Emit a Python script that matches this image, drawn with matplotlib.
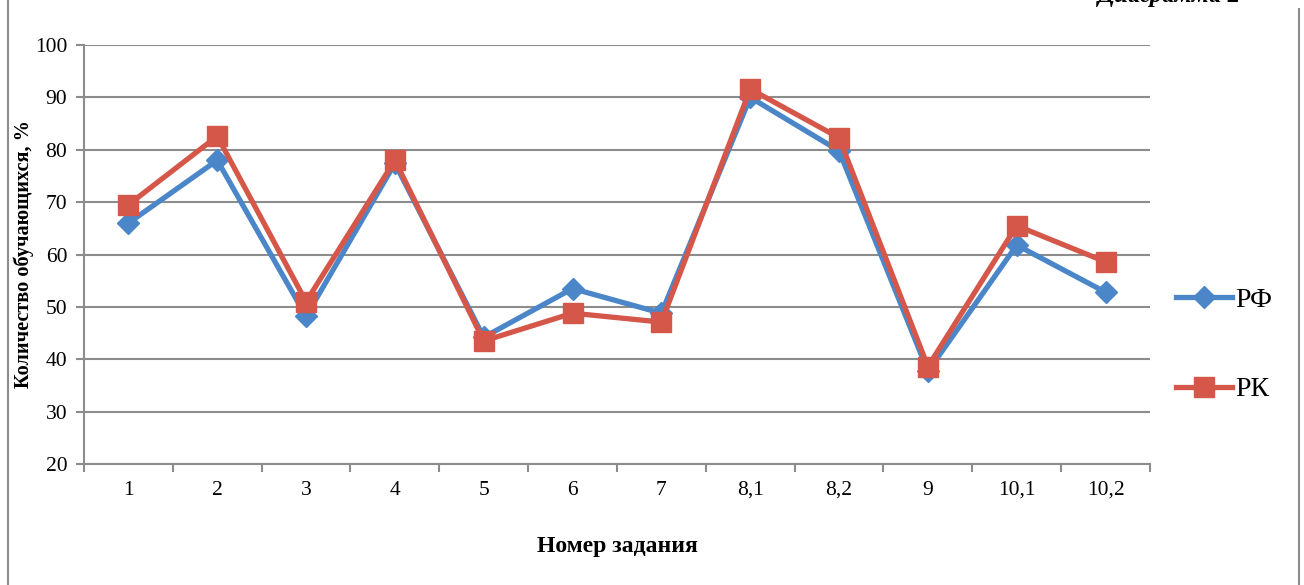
import matplotlib.pyplot as plt
from matplotlib.lines import Line2D

plt.rcParams['font.family'] = ['Liberation Serif', 'DejaVu Serif']

categories = ['1', '2', '3', '4', '5', '6', '7', '8,1', '8,2', '9', '10,1', '10,2']
rf_values = [66, 78, 48.2, 77.4, 44.2, 53.5, 48.8, 90, 79.8, 37.7, 61.8, 52.8]
rk_values = [69.5, 82.6, 51, 78, 43.5, 48.8, 47.1, 91.6, 82.3, 38.6, 65.5, 58.6]
series_names = ['РФ', 'РК']

blue = '#4A86C8'
red = '#D5574A'
grid_col = '#8c8c8c'

fig = plt.figure(figsize=(13.04, 5.85), dpi=100)
ax = fig.add_axes([0.0644, 0.2068, 0.8175, 0.7162])

x = list(range(len(categories)))
ax.plot(x, rf_values, color=blue, lw=3.8, marker='D', ms=11, label=series_names[0], zorder=3)
ax.plot(x, rk_values, color=red, lw=3.8, marker='s', ms=14, label=series_names[1], zorder=4)

ax.set_xlim(-0.5, len(categories) - 0.5)
ax.set_ylim(20, 100)
ax.set_yticks(range(20, 101, 10))
ax.set_xticks(x)
ax.set_xticklabels(categories)
ax.set_xticks([i + 0.5 for i in range(-1, len(categories))], minor=True)
ax.tick_params(axis='x', which='major', length=0, pad=12, labelsize=15.5)
ax.tick_params(axis='x', which='minor', length=6, color=grid_col, width=1.5)
ax.tick_params(axis='y', length=6, color=grid_col, width=1.5, labelsize=15.5, pad=6)

ax.grid(axis='y', color=grid_col, lw=1.5)
ax.set_axisbelow(True)
for s in ['top', 'right']:
    ax.spines[s].set_visible(False)
for s in ['left', 'bottom']:
    ax.spines[s].set_color(grid_col)
    ax.spines[s].set_linewidth(1.5)

ax.set_xlabel('Номер задания', fontsize=17, fontweight='bold', labelpad=26)
ax.set_ylabel('Количество обучающихся, %', fontsize=14.6, fontweight='bold', labelpad=1)

fig.legend(loc='center left', bbox_to_anchor=(1176 / 1304, 1 - 345 / 585), frameon=False, fontsize=20,
           labelspacing=2.3, handlelength=2.0, handletextpad=0.12, borderaxespad=0, borderpad=0)

fig.text(0.952, 1.008, 'Диаграмма 2', fontsize=18, fontweight='bold', style='italic',
         ha='right', va='center')

fig.add_artist(Line2D([0.006, 0.006], [0, 1], color=grid_col, lw=1.5))
fig.add_artist(Line2D([0.9965, 0.9965], [0, 0.985], color=grid_col, lw=1.5))

fig.savefig('out.png', dpi=100)
